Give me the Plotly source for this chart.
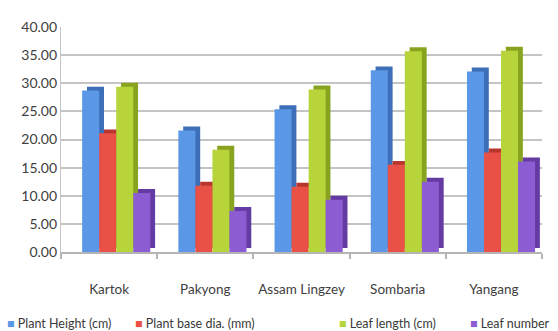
import plotly.graph_objects as go

# Site names and measured traits
sites = ["Kartok", "Pakyong", "Assam Lingzey", "Sombaria", "Yangang"]
series_names = ["Plant Height (cm)", "Plant base dia. (mm)", "Leaf length (cm)", "Leaf number"]

plant_height = [28.7, 21.6, 25.4, 32.3, 32.1]
base_dia = [21.1, 11.8, 11.6, 15.5, 17.7]
leaf_length = [29.4, 18.2, 28.9, 35.7, 35.8]
leaf_number = [10.5, 7.3, 9.3, 12.5, 16.1]

y_ticks = [0, 5, 10, 15, 20, 25, 30, 35, 40]

values = [plant_height, base_dia, leaf_length, leaf_number]
front_colors = ["#5a97e6", "#ea5146", "#b7d53a", "#8c5cd2"]
side_colors = ["#3d6fb8", "#b8362e", "#88a31f", "#643aa3"]

W, H = 558, 331
L, R, T, B = 61, 16, 27, 79

x = list(range(len(sites)))
bar_w = 0.177
first_offset = -0.28
depth_x = 0.05   # side face shift (category units)
depth_y = 0.7    # cap rise (value units)

fig = go.Figure()
for i, (name, vals) in enumerate(zip(series_names, values)):
    off = first_offset + i * bar_w
    # darker side / top face drawn behind the front face
    fig.add_trace(go.Bar(
        x=x, y=vals, base=[depth_y] * len(vals),
        offset=off + depth_x, width=bar_w,
        marker=dict(color=side_colors[i], line=dict(width=0)),
        showlegend=False, hoverinfo="skip",
    ))
    # front face
    fig.add_trace(go.Bar(
        x=x, y=vals, name=name,
        offset=off, width=bar_w,
        marker=dict(color=front_colors[i], line=dict(width=0)),
        showlegend=False,
    ))

# Legend drawn as a row of coloured squares with labels
legend_px = [5, 133, 337, 468]
plot_w = W - L - R
plot_h = H - T - B
legend_y = (H - B - 323) / plot_h
for name, color, px in zip(series_names, front_colors, legend_px):
    fig.add_annotation(
        x=(px - L) / plot_w, y=legend_y, xref="paper", yref="paper",
        xanchor="left", yanchor="middle", showarrow=False,
        text=f'<span style="color:{color}">■</span> {name}',
        font=dict(family="Lato", size=12.5, color="#3a3a3a"),
    )

fig.update_layout(
    width=W, height=H,
    margin=dict(l=L, r=R, t=T, b=B, pad=0),
    paper_bgcolor="white", plot_bgcolor="white",
    barmode="overlay",
    showlegend=False,
    xaxis=dict(
        range=[-0.5, len(sites) - 0.5],
        tickvals=x, ticktext=sites,
        ticks="", showgrid=False,
        showline=True, linecolor="#b5b5b5", linewidth=1.5,
        tickfont=dict(family="Lato", size=13.5, color="#404040"),
        ticklabelstandoff=24,
        minor=dict(tickvals=[k - 0.5 for k in range(len(sites) + 1)],
                   ticks="outside", ticklen=5, tickcolor="#b5b5b5", tickwidth=1.5,
                   showgrid=False),
        zeroline=False,
    ),
    yaxis=dict(
        range=[0, 40],
        tickvals=y_ticks, tickformat=".2f",
        showgrid=True, gridcolor="#c4c4c4", gridwidth=1.5,
        showline=True, linecolor="#c4c4c4", linewidth=1.2,
        zeroline=False,
        tickfont=dict(family="Lato", size=14, color="#404040"),
    ),
)

fig.write_html("out.html")
